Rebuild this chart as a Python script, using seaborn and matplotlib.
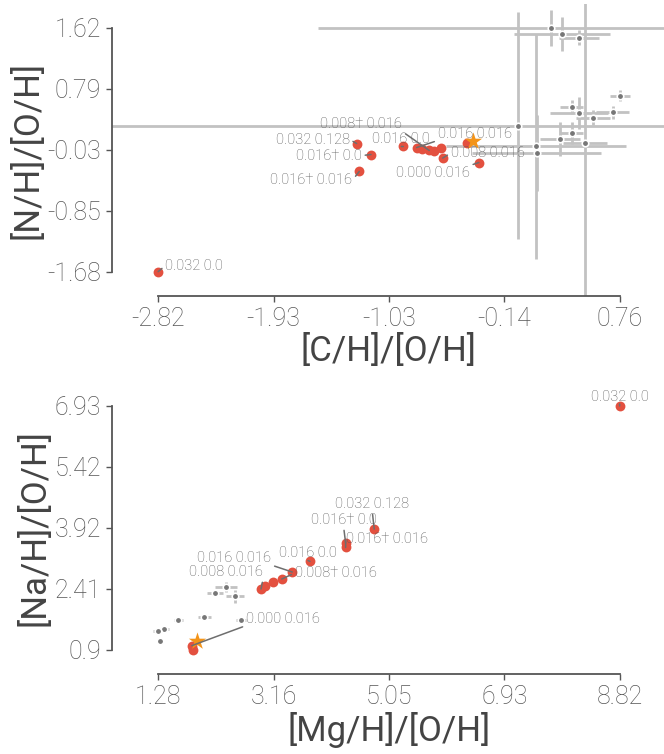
import matplotlib
matplotlib.use("Agg")
import matplotlib.pyplot as plt
import numpy as np
import pandas as pd
import seaborn as sns

###################################
# colors
red = "#e3503f"
orange = "#f39419"
dark_grey = "#777777"
light_grey = "#c2c2c2"
text_grey = "#5a5a5a"
line_grey = "#6e6e6e"
axis_grey = "#555555"
###################################

# ---- top panel: [C/H]/[O/H] vs [N/H]/[O/H] ----
top_red_x = [-1.280, -1.169, -1.260, -0.918, -0.815, -0.771, -0.717, -0.680, -0.626, -0.613, -0.332, -0.427, -2.82]
top_red_y = [0.055, -0.094, -0.323, 0.015, 0.001, -0.021, -0.039, -0.048, -0.007, -0.142, -0.202, 0.069, -1.68]
top_labels = ["0.032 0.128", "0.016\u2020 0.0", "0.016\u2020 0.016", "0.016 0.0", "0.016 0.016", "",
              "0.008\u2020 0.016", "", "", "0.008 0.016", "0.000 0.016", "", "0.032 0.0"]
top_star_x = [-0.380]
top_star_y = [0.096]
top_obs_x = [0.227, 0.312, 0.441, 0.76, 0.387, 0.441, 0.705, 0.554, -0.027, 0.387, 0.296, 0.490, 0.110, 0.118]
top_obs_y = [1.62, 1.543, 1.489, 0.704, 0.556, 0.466, 0.480, 0.407, 0.299, 0.196, 0.115, 0.061, 0.015, -0.075]
top_obs_xerr = [1.81, 0.37, 0.155, 0.078, 0.09, 0.225, 0.13, 0.13, 3.5, 0.09, 0.155, 0.17, 0.70, 0.50]
top_obs_yerr = [0.24, 0.23, 0.10, 0.07, 0.095, 0.22, 0.09, 0.10, 1.54, 0.15, 0.23, 2.5, 1.53, 0.51]
top_xticklabels = ["-2.82", "-1.93", "-1.03", "-0.14", "0.76"]
top_yticklabels = ["-1.68", "-0.85", "-0.03", "0.79", "1.62"]

# ---- bottom panel: [Mg/H]/[O/H] vs [Na/H]/[O/H] ----
bot_red_x = [4.810, 4.343, 4.343, 3.761, 3.472, 3.299, 3.152, 3.026, 2.961, 8.82, 1.830, 1.856]
bot_red_y = [3.883, 3.537, 3.428, 3.082, 2.820, 2.647, 2.568, 2.465, 2.400, 6.93, 0.999, 0.90]
bot_labels = ["0.032 0.128", "0.016\u2020 0.0", "0.016\u2020 0.016", "0.016 0.0", "0.016 0.016",
              "0.008\u2020 0.016", "", "", "0.008 0.016", "0.032 0.0", "0.000 0.016", ""]
bot_star_x = [1.921]
bot_star_y = [1.122]
bot_obs_x = [2.390, 2.210, 2.537, 2.036, 1.611, 2.635, 1.378, 1.28, 1.313]
bot_obs_y = [2.450, 2.301, 2.217, 1.708, 1.624, 1.624, 1.412, 1.370, 1.122]
bot_obs_xerr = [0.18, 0.13, 0.15, 0.11, 0.07, 0.08, 0.08, 0.08, 0.03]
bot_obs_yerr = [0.12, 0.08, 0.17, 0.07, 0.05, 0.07, 0.05, 0.04, 0.03]
bot_xticklabels = ["1.28", "3.16", "5.05", "6.93", "8.82"]
bot_yticklabels = ["0.9", "2.41", "3.92", "5.42", "6.93"]

# label offsets (pixels, text centre relative to point)
top_offsets = [(-44, 4), (-42, -1), (-48, -9), (-2, 7), (58, 14), None,
               (-68, 26), None, None, (45, 5), (-46, -10), None, (36, 6)]
bot_offsets = [(-2, 25), (-2, 23), (41, 8), (-2, 8), (-58, 14), (54, 6),
               None, None, (-35, 17), (0, 9), (91, 27), None]

sns.set_theme(style="ticks")
plt.rcParams['font.family'] = ['Roboto', 'DejaVu Sans']
plt.rcParams['font.weight'] = 'light'


def attach(off):
    # where the leader line leaves the label box
    dx, up = off
    rx = 0.0 if dx > 15 else (1.0 if dx < -15 else 0.5)
    if abs(dx) > 15 and abs(up) < 10:
        ry = 0.5
    else:
        ry = 0.0 if up > 0 else 1.0
    return (rx, ry)


def panel(ax, rx, ry, labels, offsets, sx, sy, ox, oy, oxe, oye, xtl, ytl, xlabel, ylabel):
    ax.errorbar(ox, oy, xerr=oxe, yerr=oye, fmt='none', ecolor=light_grey,
                elinewidth=2, capsize=0, zorder=1)
    obs = pd.DataFrame({'x': ox, 'y': oy})
    sns.scatterplot(data=obs, x='x', y='y', ax=ax, color=dark_grey, s=22,
                    edgecolor='white', linewidth=1.2, zorder=2)
    mod = pd.DataFrame({'x': rx, 'y': ry})
    sns.scatterplot(data=mod, x='x', y='y', ax=ax, color=red, s=50,
                    linewidth=0, zorder=3)
    star = pd.DataFrame({'x': sx, 'y': sy})
    sns.scatterplot(data=star, x='x', y='y', ax=ax, color=orange, marker='*',
                    s=170, linewidth=0, zorder=4)
    for x, y, lab, off in zip(rx, ry, labels, offsets):
        if not lab:
            continue
        ax.annotate(lab, xy=(x, y), xytext=off, textcoords='offset pixels',
                    ha='center', va='center', fontsize=10.5, color=text_grey,
                    arrowprops=dict(arrowstyle='-', color=line_grey, lw=1.1,
                                    shrinkA=0, shrinkB=0, relpos=attach(off)),
                    zorder=5)

    allx = np.concatenate([rx, sx, ox])
    ally = np.concatenate([ry, sy, oy])
    xmin, xmax = allx.min(), allx.max()
    ymin, ymax = ally.min(), ally.max()
    padx = 0.1 * (xmax - xmin)
    pady = 0.1 * (ymax - ymin)
    ax.set_xlim(xmin - padx, xmax + padx)
    ax.set_ylim(ymin - pady, ymax + pady)
    ax.set_xticks(np.linspace(xmin, xmax, 5), labels=xtl)
    ax.set_yticks(np.linspace(ymin, ymax, 5), labels=ytl)
    ax.tick_params(length=4, width=1, color=axis_grey, labelcolor=axis_grey,
                   labelsize=18, pad=4)
    ax.set_xlabel(xlabel, fontsize=25, color='#444444', labelpad=2, fontweight='normal')
    ax.set_ylabel(ylabel, fontsize=25, color='#444444', labelpad=2, fontweight='normal')
    for sp in ['left', 'bottom']:
        ax.spines[sp].set_color(axis_grey)
        ax.spines[sp].set_linewidth(1.3)
    sns.despine(ax=ax, trim=True)


fig = plt.figure(figsize=(6.64, 7.54), dpi=100)
ax1 = fig.add_axes([0.1687, 0.6074, 0.834, 0.3878])
ax2 = fig.add_axes([0.1687, 0.1061, 0.834, 0.3878])

panel(ax1, top_red_x, top_red_y, top_labels, top_offsets, top_star_x, top_star_y,
      top_obs_x, top_obs_y, top_obs_xerr, top_obs_yerr,
      top_xticklabels, top_yticklabels, '[C/H]/[O/H]', '[N/H]/[O/H]')
panel(ax2, bot_red_x, bot_red_y, bot_labels, bot_offsets, bot_star_x, bot_star_y,
      bot_obs_x, bot_obs_y, bot_obs_xerr, bot_obs_yerr,
      bot_xticklabels, bot_yticklabels, '[Mg/H]/[O/H]', '[Na/H]/[O/H]')

plt.savefig('out.png', dpi=100)
